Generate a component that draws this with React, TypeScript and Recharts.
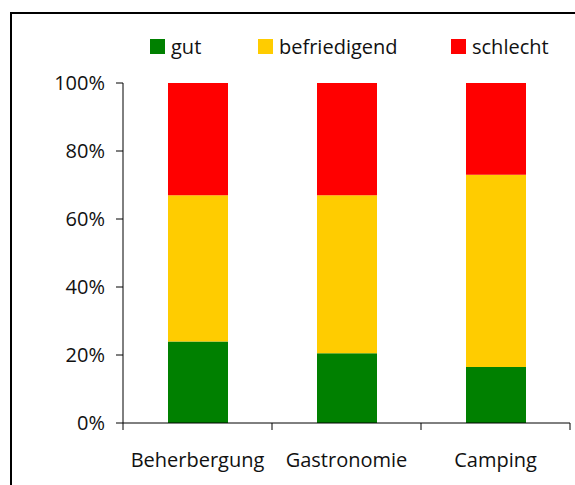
import React from "react";
import { BarChart, Bar, XAxis, YAxis, Legend } from "recharts";

const categories = ["Beherbergung", "Gastronomie", "Camping"];
const gut = [24, 20.5, 16.5];
const befriedigend = [43, 46.5, 56.5];
const schlecht = [33, 33, 27];
const yTicks = [0, 20, 40, 60, 80, 100];

const seriesInfo = [
  { key: "gut", color: "#008000" },
  { key: "befriedigend", color: "#FFCC00" },
  { key: "schlecht", color: "#FF0000" },
];

const data = categories.map((name, i) => ({
  name,
  gut: gut[i],
  befriedigend: befriedigend[i],
  schlecht: schlecht[i],
}));

const FONT = "'Open Sans', sans-serif";
const legendLeft = [150, 258, 451];

function renderLegend() {
  return (
    <div style={{ position: "relative", height: 20 }}>
      {seriesInfo.map((s, i) => (
        <div
          key={s.key}
          style={{
            position: "absolute",
            left: legendLeft[i],
            top: -7,
            display: "flex",
            alignItems: "center",
            fontFamily: FONT,
            fontSize: 20,
            color: "#111",
            whiteSpace: "nowrap",
          }}
        >
          <span style={{ width: 15, height: 15, background: s.color, display: "inline-block", marginRight: 6 }} />
          {s.key}
        </div>
      ))}
    </div>
  );
}

function CategoryTick(props: any) {
  const { x, y, payload, index } = props;
  const off = payload.offset || 0;
  return (
    <g>
      <line x1={x - off} y1={y} x2={x - off} y2={y + 7} stroke="#000" />
      {index === categories.length - 1 && (
        <line x1={x + off} y1={y} x2={x + off} y2={y + 7} stroke="#000" />
      )}
      <text x={x} y={y + 44} textAnchor="middle" fontFamily={FONT} fontSize={20} fill="#111">
        {payload.value}
      </text>
    </g>
  );
}

export default function App() {
  return (
    <div style={{ position: "absolute", left: 0, top: 0, width: 575, height: 485, overflow: "hidden", background: "#fff" }}>
      <div
        style={{
          position: "absolute",
          left: 10,
          top: 12,
          width: 620,
          height: 520,
          border: "2px solid #000",
        }}
      />
      <div style={{ position: "absolute", left: 0, top: 0 }}>
        <BarChart
          width={575}
          height={485}
          data={data}
          barSize={60}
          margin={{ top: 40, right: 5, left: 0, bottom: 0 }}
        >
          <Legend verticalAlign="top" height={43} content={renderLegend} />
          <XAxis
            dataKey="name"
            stroke="#000"
            tickSize={0}
            tickMargin={0}
            tick={<CategoryTick />}
            interval={0}
            height={62}
          />
          <YAxis
            width={123}
            domain={[0, 100]}
            ticks={yTicks}
            tickFormatter={(v: number) => v + "%"}
            stroke="#000"
            tickSize={7}
            tickMargin={11}
            tick={{ fontFamily: FONT, fontSize: 20, fill: "#111" }}
          />
          {seriesInfo.map((s) => (
            <Bar key={s.key} dataKey={s.key} stackId="a" fill={s.color} isAnimationActive={false} />
          ))}
        </BarChart>
      </div>
    </div>
  );
}
